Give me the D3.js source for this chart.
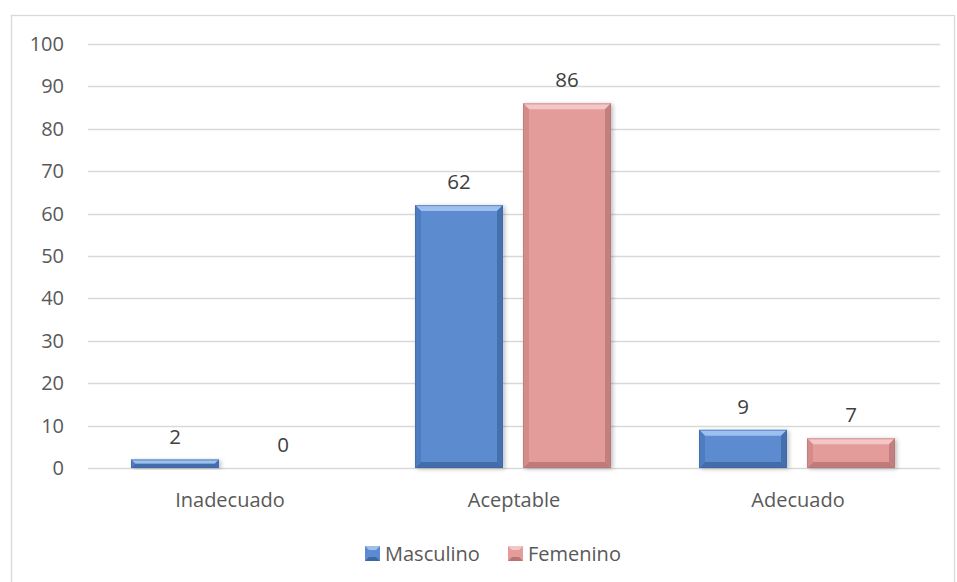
<!DOCTYPE html>
<html lang="es">
<head>
<meta charset="UTF-8">
<title>Masculino / Femenino</title>
<script src="https://d3js.org/d3.v7.min.js"></script>
<style>
  body { margin: 0; background: #fff; }
  svg text { font-family: "Open Sans", "Noto Sans", sans-serif; fill: #404040; }
</style>
</head>
<body>
<svg id="chart" width="957" height="582"></svg>
<script>
// data
var categories = ["Inadecuado", "Aceptable", "Adecuado"];
var seriesNames = ["Masculino", "Femenino"];
var masculino = [2, 62, 9];
var femenino = [0, 86, 7];
var yTicks = [0, 10, 20, 30, 40, 50, 60, 70, 80, 90, 100];

var colors = {
  Masculino: { base: "#5b8bd0", light: "#9ec0ee", dark: "#3d67a3", side: "#4d7cc0" },
  Femenino:  { base: "#e49c9b", light: "#f4c6c5", dark: "#b87474", side: "#d48c8b" }
};

var svg = d3.select("#chart");
var margin = { top: 44, left: 88, right: 17, bottom: 114 };
var width = 957 - margin.left - margin.right;
var height = 582 - margin.top - margin.bottom;

// outer border
svg.append("rect")
  .attr("x", 11.5).attr("y", 15.5)
  .attr("width", 943).attr("height", 580)
  .attr("fill", "none").attr("stroke", "#d9d9d9").attr("stroke-width", 1.3);

var g = svg.append("g").attr("transform", "translate(" + margin.left + "," + margin.top + ")");

var x = d3.scaleBand().domain(categories).range([0, width]).paddingInner(0).paddingOuter(0);
var x1 = d3.scaleBand().domain(seriesNames).range([43, 239]).paddingInner(0.185);
var y = d3.scaleLinear().domain([0, 100]).range([height, 0]);

// grid
g.selectAll(".grid").data(yTicks).enter().append("line")
  .attr("x1", 0).attr("x2", width)
  .attr("y1", function(d) { return Math.round(y(d)) + 0.5; })
  .attr("y2", function(d) { return Math.round(y(d)) + 0.5; })
  .attr("stroke", "#d9d9d9").attr("stroke-width", 1.3);

// y axis labels
var yAxis = g.append("g").call(d3.axisLeft(y).tickValues(yTicks).tickSize(0).tickPadding(24));
yAxis.select(".domain").remove();
yAxis.selectAll("text").attr("font-size", 20).style("fill", "#595959")
  .style("font-family", "'Open Sans', sans-serif");

// x axis labels
var xAxis = g.append("g").attr("transform", "translate(0," + height + ")")
  .call(d3.axisBottom(x).tickSize(0).tickPadding(25));
xAxis.select(".domain").remove();
xAxis.selectAll("text").attr("font-size", 20).style("fill", "#595959")
  .style("font-family", "'Open Sans', sans-serif");

// shadow
var defs = svg.append("defs");
var f = defs.append("filter").attr("id", "shadow").attr("x", "-20%").attr("y", "-20%").attr("width", "140%").attr("height", "140%");
f.append("feDropShadow").attr("dx", 2).attr("dy", 1).attr("stdDeviation", 2).attr("flood-color", "#000").attr("flood-opacity", 0.25);

var rows = [];
categories.forEach(function(c, i) {
  rows.push({ cat: c, s: "Masculino", v: masculino[i] });
  rows.push({ cat: c, s: "Femenino", v: femenino[i] });
});

var bars = g.selectAll(".bar").data(rows).enter().append("g").attr("class", "bar");

bars.each(function(d) {
  var sel = d3.select(this);
  var bx = x(d.cat) + x1(d.s);
  var bw = x1.bandwidth();
  var by = y(d.v);
  var bh = y(0) - y(d.v);
  var c = colors[d.s];
  if (bh <= 0) return;
  var b = Math.min(6, bh / 2, bw / 2);
  sel.append("rect").attr("x", bx).attr("y", by).attr("width", bw).attr("height", bh)
    .attr("fill", c.base).attr("filter", "url(#shadow)");
  // bevel: top
  sel.append("polygon").attr("fill", c.light)
    .attr("points", [[bx, by], [bx + bw, by], [bx + bw - b, by + b], [bx + b, by + b]].join(" "));
  // bottom
  sel.append("polygon").attr("fill", c.dark).attr("opacity", 0.85)
    .attr("points", [[bx, by + bh], [bx + bw, by + bh], [bx + bw - b, by + bh - b], [bx + b, by + bh - b]].join(" "));
  // left
  sel.append("polygon").attr("fill", c.side)
    .attr("points", [[bx, by], [bx + b, by + b], [bx + b, by + bh - b], [bx, by + bh]].join(" "));
  // right
  sel.append("polygon").attr("fill", c.dark).attr("opacity", 0.75)
    .attr("points", [[bx + bw, by], [bx + bw - b, by + b], [bx + bw - b, by + bh - b], [bx + bw, by + bh]].join(" "));
  sel.append("rect").attr("x", bx + 0.5).attr("y", by + 0.5).attr("width", bw - 1).attr("height", Math.max(0, bh - 1))
    .attr("fill", "none").attr("stroke", c.dark).attr("stroke-width", 1).attr("opacity", 0.6);
});

// value labels
g.selectAll(".val").data(rows).enter().append("text")
  .attr("x", function(d) { return x(d.cat) + x1(d.s) + x1.bandwidth() / 2; })
  .attr("y", function(d) { return y(d.v) - 16; })
  .attr("text-anchor", "middle").attr("font-size", 20.5)
  .text(function(d) { return d.v; });

// legend
var legend = svg.append("g").attr("transform", "translate(365,553)");
var lx = [0, 143];
seriesNames.forEach(function(s, i) {
  var c = colors[s];
  var lg = legend.append("g").attr("transform", "translate(" + lx[i] + ",0)");
  lg.append("rect").attr("x", 0).attr("y", -7).attr("width", 15).attr("height", 15).attr("fill", c.base);
  lg.append("polygon").attr("fill", c.light).attr("points", "0,-7 15,-7 11,-3 4,-3");
  lg.append("polygon").attr("fill", c.dark).attr("points", "0,8 15,8 11,4 4,4");
  lg.append("text").attr("x", 20).attr("y", 7.5).attr("font-size", 20).style("fill", "#595959").text(s);
});
</script>
</body>
</html>
